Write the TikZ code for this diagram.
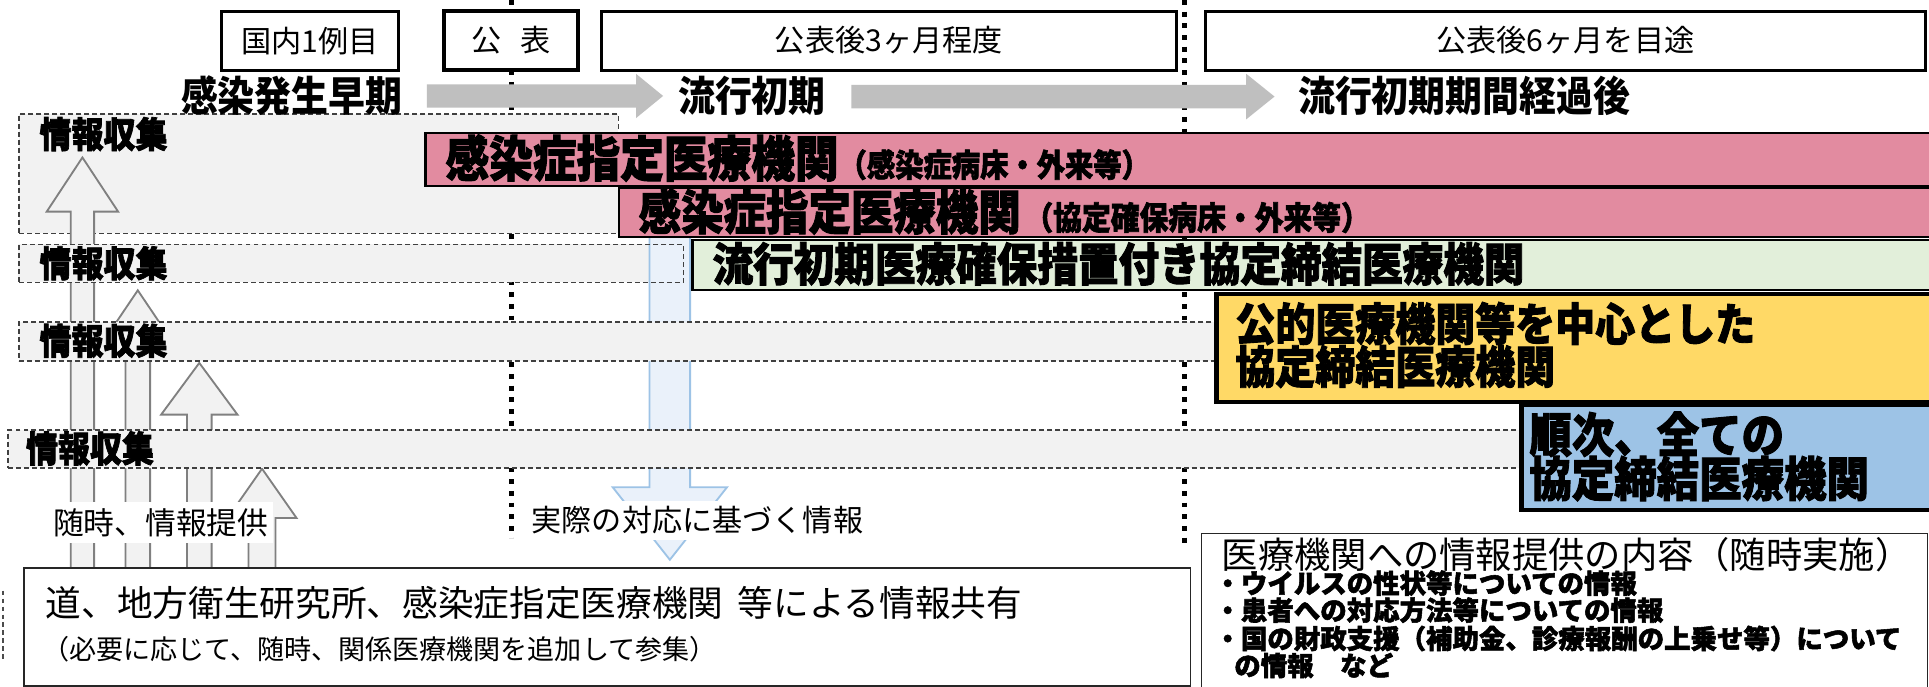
\documentclass[tikz,border=0pt]{standalone}
\usepackage{fontspec}
\newfontfamily\jp{Noto Sans CJK JP}
\newfontfamily\jph{Noto Sans CJK JP}[FakeBold=2]
\newcommand\myfs[1]{\fontsize{#1}{#1}\selectfont}
\newcommand\tallt[1]{\scalebox{1}[1.12]{#1}}
\definecolor{pinkc}{HTML}{E28BA0}
\definecolor{greenc}{HTML}{E2EFDA}
\definecolor{yellowc}{HTML}{FFD966}
\definecolor{bluec}{HTML}{9DC3E6}
\definecolor{rowgray}{HTML}{F2F2F2}
\definecolor{flowgray}{HTML}{BFBFBF}
\definecolor{arrowline}{HTML}{808080}
\definecolor{bluel}{HTML}{9DC3E6}
\definecolor{bluef}{HTML}{EAF1FA}
\tikzset{
 periodbox/.style={draw=black, line width=2.5pt, fill=white, minimum height=48pt, inner sep=0pt, font=\jp\myfs{24.5}},
 dotsep/.style={line width=4pt, dash pattern=on 4pt off 5.5pt, black},
 collect/.style={draw=black!75, line width=1.2pt, dash pattern=on 4pt off 2.5pt, fill=rowgray, inner sep=0pt, anchor=north west},
 collectlabel/.style={anchor=west, inner sep=0pt, font=\jph\bfseries\myfs{26}},
 uparrow/.style={draw=arrowline, line width=1.5pt, fill=rowgray, line join=miter},
 downarrow/.style={draw=bluel, line width=1.5pt, fill=bluef, line join=miter},
 flowarrow/.style={fill=flowgray},
 phase/.style={anchor=west, inner sep=0pt, font=\jp\bfseries\myfs{30}},
 bar/.style={draw=black, line width=1.8pt, inner sep=0pt, anchor=north west},
 thickbar/.style={draw=black, line width=3.5pt, inner sep=0pt, anchor=north west},
 bartext/.style={anchor=west, inner sep=0pt, font=\jph\bfseries},
 plainbox/.style={draw=black!85, line width=1.3pt, fill=white, inner sep=0pt, anchor=north west},
 plain/.style={anchor=west, inner sep=0pt, font=\jp},
 bultext/.style={anchor=west, inner sep=0pt, font=\jph\bfseries\myfs{21.5}},
}
\begin{document}
\begin{tikzpicture}[x=1pt,y=-1pt]
\path[use as bounding box, fill=white] (0,0) rectangle (1568,558.4);
\begin{scope}
\clip (0,0) rectangle (1568,558.4);

% dotted separators
\coordinate (s1a) at (416,0); \coordinate (s1b) at (416,437);
\draw[dotsep] (s1a) -- (s1b);
\coordinate (s2a) at (963,0); \coordinate (s2b) at (963,442);
\draw[dotsep] (s2a) -- (s2b);

% information collection row 1
\node[collect, minimum width=487pt, minimum height=97pt] (row1) at (15,92) {};
\node[collectlabel] (lab1) at (32,109) {\tallt{情報収集}};

% upward arrows (information provided)
\foreach \c/\w/\h/\t/\b in {67/9.5/29/128/172, 112/10/29/236/279, 162/10/31/295/337, 213/11/28/381/421}
  \draw[uparrow] (\c-\w,463) -- (\c-\w,\b) -- (\c-\h,\b) -- (\c,\t) -- (\c+\h,\b) -- (\c+\w,\b) -- (\c+\w,463) -- cycle;

% row 2 fill, blue arrow, row 2 border
\fill[rowgray] (15,198) rectangle (555,229);
\draw[downarrow] (528,175) -- (528,396) -- (498,396) -- (544.5,455) -- (591,396) -- (561,396) -- (561,175) -- cycle;
\node[collect, fill=none, minimum width=540pt, minimum height=31pt] (row2) at (15,198) {};
\node[collectlabel] (lab2) at (32,214) {\tallt{情報収集}};

% rows 3 and 4
\node[collect, minimum width=995pt, minimum height=32pt] (row3) at (15,261) {};
\node[collectlabel] (lab3) at (32,277) {\tallt{情報収集}};
\node[collect, minimum width=1244pt, minimum height=31pt] (row4) at (6,349) {};
\node[collectlabel] (lab4) at (21,364.5) {\tallt{情報収集}};

% coloured bars
\node[bar, fill=pinkc, minimum width=1240pt, minimum height=43pt] (pink1) at (345,107) {};
\node[bartext] (pink1t) at (362,128.5) {\tallt{\myfs{35.5}感染症指定医療機関\myfs{23}（感染症病床・外来等）}};
\node[bar, fill=pinkc, minimum width=1080pt, minimum height=40pt] (pink2) at (502,152) {};
\node[bartext] (pink2t) at (519,172) {\tallt{\myfs{34.5}感染症指定医療機関\hspace{3pt}\myfs{23.4}（協定確保病床・外来等）}};
\node[bar, fill=greenc, minimum width=1020pt, minimum height=41pt] (green) at (562,194) {};
\node[bartext, font=\jph\bfseries\myfs{33}] (greent) at (579,214.5) {\tallt{流行初期医療確保措置付き協定締結医療機関}};
\node[thickbar, fill=yellowc, minimum width=600pt, minimum height=88pt] (yellow) at (987,237) {};
\node[bartext, font=\jph\bfseries\myfs{32.5}] (yellowt1) at (1004,263) {\tallt{公的医療機関等を中心とした}};
\node[bartext, font=\jph\bfseries\myfs{32.5}] (yellowt2) at (1004,298) {\tallt{協定締結医療機関}};
\node[thickbar, fill=bluec, minimum width=350pt, minimum height=86pt] (blue) at (1235,327) {};
\node[bartext, font=\jph\bfseries\myfs{34.5}] (bluet1) at (1243,353) {\tallt{順次、全ての}};
\node[bartext, font=\jph\bfseries\myfs{34.5}] (bluet2) at (1243,389) {\tallt{協定締結医療機関}};

% period boxes
\node[periodbox, minimum width=144pt] (b1) at (252,33) {国内1例目};
\node[periodbox, line width=3.5pt, minimum width=109pt] (b2) at (415.5,33) {公\hspace{0.6em}表};
\node[periodbox, minimum width=467pt] (b3) at (722.5,33) {公表後3ヶ月程度};
\node[periodbox, minimum width=585pt] (b4) at (1272.5,33) {公表後6ヶ月を目途};

% phases and flow arrows
\node[phase] (ph1) at (147,78) {\tallt{感染発生早期}};
\node[phase] (ph2) at (551,78) {\tallt{流行初期}};
\node[phase] (ph3) at (1055,78) {\tallt{流行初期期間経過後}};
\fill[flowarrow] (347,68.5) -- (517,68.5) -- (517,60) -- (539,78) -- (517,96) -- (517,87.5) -- (347,87.5) -- cycle;
\fill[flowarrow] (692,69) -- (1013,69) -- (1013,60) -- (1036,78.5) -- (1013,97) -- (1013,88) -- (692,88) -- cycle;

% arrow labels on white patches
\fill[white] (41,408) rectangle (222,441);
\node[plain, font=\jp\myfs{25}] (prov) at (43,425) {随時、情報提供};
\fill[white] (428,407) rectangle (706,439);
\node[plain, font=\jp\myfs{24.5}] (actual) at (432,423) {実際の対応に基づく情報};

% bottom boxes
\draw[black!70, line width=1.2pt, dash pattern=on 4pt off 2.5pt] (2.5,480) -- (2.5,538);
\node[plainbox, minimum width=948pt, minimum height=96pt] (share) at (19,461) {};
\node[plain, font=\jp\myfs{29}] (share1) at (37,490) {道、地方衛生研究所、感染症指定医療機関\hspace{0.4em}等による情報共有};
\node[plain, font=\jp\myfs{22}] (share2) at (34,528) {（必要に応じて、随時、関係医療機関を追加して参集）};

\node[plainbox, minimum width=590pt, minimum height=126pt] (info) at (976,433) {};
\node[plain, font=\jp\myfs{29.5}] (info0) at (993,451) {医療機関への情報提供の内容（随時実施）};
\node[bultext] (info1) at (987,474) {・ウイルスの性状等についての情報};
\node[bultext] (info2) at (987,496) {・患者への対応方法等についての情報};
\node[bultext] (info3) at (987,519) {・国の財政支援（補助金、診療報酬の上乗せ等）について};
\node[bultext] (info4) at (987,541) {\hspace{0.75em}の情報　など};
\end{scope}
\end{tikzpicture}
\end{document}
